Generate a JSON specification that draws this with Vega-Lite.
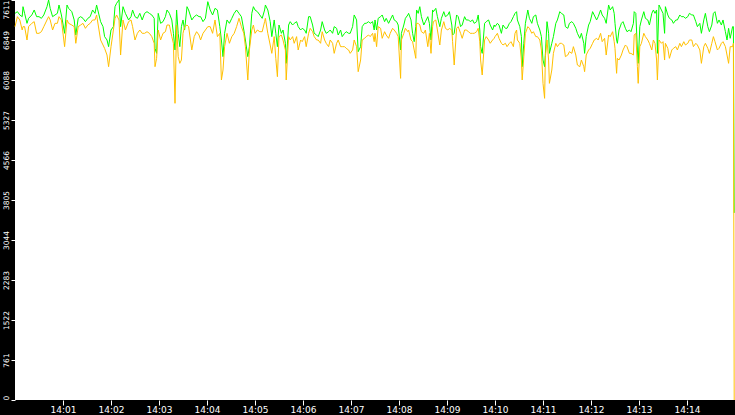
{
  "$schema": "https://vega.github.io/schema/vega-lite/v6.json",
  "width": 720,
  "height": 400,
  "autosize": {"type": "none"},
  "padding": {"left": 15, "top": 0, "right": 0, "bottom": 15},
  "background": "#000000",
  "config": {
    "view": {"fill": "#ffffff", "stroke": null},
    "axis": {"grid": false, "domain": false, "title": null, "labelColor": "#ffffff", "tickColor": "#ffffff", "labelFont": "DejaVu Sans"}
  },
  "data": {
    "values": [
      {"t":0,"g":7357,"o":7104},{"t":3,"g":7389,"o":7294},{"t":6,"g":7326,"o":7231},{"t":9,"g":7294,"o":7040},
      {"t":10,"g":7484,"o":7104},{"t":12,"g":7357,"o":7104},{"t":15,"g":7167,"o":6850},{"t":17,"g":7262,"o":7104},
      {"t":21,"g":7326,"o":7167},{"t":24,"g":7421,"o":7199},{"t":27,"g":7294,"o":6977},{"t":30,"g":7294,"o":6977},
      {"t":33,"g":7262,"o":7008},{"t":36,"g":7326,"o":7104},{"t":40,"g":7484,"o":7231},{"t":42,"g":7611,"o":7294},
      {"t":44,"g":7452,"o":7231},{"t":47,"g":7294,"o":7040},{"t":50,"g":7326,"o":7167},{"t":53,"g":7357,"o":7167},
      {"t":55,"g":7516,"o":7294},{"t":58,"g":7326,"o":7231},{"t":62,"g":6977,"o":6723},{"t":65,"g":7516,"o":7231},
      {"t":67,"g":7452,"o":7167},{"t":71,"g":7389,"o":7135},{"t":74,"g":7231,"o":7104},{"t":76,"g":6945,"o":6787},
      {"t":79,"g":7262,"o":7104},{"t":82,"g":7294,"o":7135},{"t":85,"g":7262,"o":7167},{"t":88,"g":7199,"o":7072},
      {"t":91,"g":7262,"o":7135},{"t":94,"g":7294,"o":7167},{"t":97,"g":7421,"o":7231},{"t":100,"g":7357,"o":7231},
      {"t":102,"g":7516,"o":7326},{"t":105,"g":7326,"o":7040},{"t":107,"g":7199,"o":6850},{"t":110,"g":7104,"o":6755},
      {"t":112,"g":6914,"o":6691},{"t":115,"g":6850,"o":6564},{"t":117,"g":6723,"o":6342},{"t":120,"g":7040,"o":6723},
      {"t":123,"g":7104,"o":7040},{"t":125,"g":7484,"o":7262},{"t":127,"g":7548,"o":7326},{"t":130,"g":7611,"o":7231},
      {"t":132,"g":7104,"o":6564},{"t":135,"g":7484,"o":7231},{"t":138,"g":7357,"o":7040},{"t":142,"g":7231,"o":7199},
      {"t":145,"g":7294,"o":7231},{"t":147,"g":7421,"o":7104},
      {"t":150,"g":7294,"o":6850},{"t":153,"g":7262,"o":6977},{"t":156,"g":7357,"o":7040},{"t":159,"g":7231,"o":6977},
      {"t":162,"g":7357,"o":6977},{"t":165,"g":7389,"o":7008},{"t":168,"g":7357,"o":6977},{"t":171,"g":7326,"o":6914},
      {"t":174,"g":7262,"o":6787},{"t":175,"g":6691,"o":6342},{"t":177,"g":6596,"o":6501},{"t":179,"g":7357,"o":7040},
      {"t":182,"g":7167,"o":6850},{"t":185,"g":7199,"o":6977},{"t":188,"g":7294,"o":7008},{"t":190,"g":7421,"o":7135},
      {"t":193,"g":7357,"o":7135},{"t":196,"g":7231,"o":6914},{"t":198,"g":6977,"o":6787},{"t":200,"g":6660,"o":5645},
      {"t":202,"g":7421,"o":7135},{"t":204,"g":6977,"o":6533},{"t":206,"g":6723,"o":6406},{"t":208,"g":7104,"o":6469},
      {"t":210,"g":7231,"o":6977},{"t":212,"g":7040,"o":7104},{"t":215,"g":7484,"o":7135},{"t":217,"g":7421,"o":7104},
      {"t":221,"g":7231,"o":6660},{"t":224,"g":7294,"o":6914},{"t":227,"g":7326,"o":7008},{"t":230,"g":7294,"o":6945},
      {"t":232,"g":7294,"o":6850},{"t":235,"g":7199,"o":6977},{"t":238,"g":7262,"o":7040},{"t":241,"g":7579,"o":7104},
      {"t":244,"g":7421,"o":7104},{"t":247,"g":7326,"o":6977},{"t":250,"g":7452,"o":7231},{"t":253,"g":7421,"o":6914},
      {"t":256,"g":7104,"o":6977},{"t":258,"g":6850,"o":6089},{"t":260,"g":6533,"o":6279},{"t":262,"g":6977,"o":6723},
      {"t":265,"g":7231,"o":6977},{"t":268,"g":7167,"o":6787},{"t":271,"g":7262,"o":6914},{"t":274,"g":7357,"o":6977},
      {"t":277,"g":7421,"o":7104},{"t":280,"g":7357,"o":7262},{"t":283,"g":7294,"o":7104},{"t":286,"g":7040,"o":6977},
      {"t":288,"g":6850,"o":6723},{"t":291,"g":6533,"o":6089},{"t":293,"g":6723,"o":6660},{"t":296,"g":7357,"o":7040},
      {"t":298,"g":7484,"o":7135},
      {"t":300,"g":7421,"o":6977},{"t":303,"g":7389,"o":7040},{"t":306,"g":7326,"o":7008},{"t":309,"g":7262,"o":7008},
      {"t":312,"g":7421,"o":7199},{"t":313,"g":7516,"o":7262},{"t":316,"g":7421,"o":6977},{"t":319,"g":7199,"o":6755},
      {"t":321,"g":6914,"o":6596},{"t":324,"g":7231,"o":6914},{"t":326,"g":6977,"o":6501},{"t":328,"g":6723,"o":6152},
      {"t":330,"g":7135,"o":6914},{"t":333,"g":6977,"o":6945},{"t":335,"g":7040,"o":6850},{"t":338,"g":6787,"o":6660},
      {"t":339,"g":6406,"o":6089},{"t":342,"g":7135,"o":6914},{"t":344,"g":7199,"o":6850},{"t":347,"g":7135,"o":6914},
      {"t":349,"g":7167,"o":6787},{"t":352,"g":7199,"o":6914},{"t":354,"g":7104,"o":6660},{"t":357,"g":7040,"o":6850},
      {"t":359,"g":7072,"o":6818},{"t":362,"g":7040,"o":6914},{"t":364,"g":6977,"o":6723},{"t":367,"g":7294,"o":6977},
      {"t":369,"g":7294,"o":7072},{"t":372,"g":7135,"o":7008},{"t":374,"g":6977,"o":6914},{"t":377,"g":6945,"o":6850},
      {"t":379,"g":6914,"o":6850},{"t":382,"g":7040,"o":6787},{"t":384,"g":7199,"o":7008},{"t":387,"g":7040,"o":6850},
      {"t":389,"g":6977,"o":6787},{"t":392,"g":7008,"o":6723},{"t":394,"g":7040,"o":6850},{"t":397,"g":6977,"o":6787},
      {"t":399,"g":7104,"o":6596},{"t":402,"g":7072,"o":6787},{"t":404,"g":6945,"o":6850},{"t":407,"g":7040,"o":6723},
      {"t":409,"g":6914,"o":6723},{"t":412,"g":6977,"o":6723},{"t":414,"g":7008,"o":6691},{"t":417,"g":6977,"o":6660},
      {"t":419,"g":6977,"o":6596},{"t":422,"g":7104,"o":6660},{"t":424,"g":7326,"o":6850},{"t":427,"g":7231,"o":6723},
      {"t":429,"g":6628,"o":6247},{"t":432,"g":6723,"o":6469},{"t":434,"g":7104,"o":6850},{"t":437,"g":7167,"o":6882},
      {"t":439,"g":7167,"o":6914},{"t":442,"g":7199,"o":6945},{"t":444,"g":7167,"o":6914},{"t":447,"g":7199,"o":6977},
      {"t":449,"g":7040,"o":6818},
      {"t":450,"g":7231,"o":6977},{"t":452,"g":7040,"o":6723},{"t":454,"g":7262,"o":7104},{"t":457,"g":7294,"o":7072},
      {"t":459,"g":7326,"o":6882},{"t":462,"g":7199,"o":7008},{"t":464,"g":7262,"o":6945},{"t":467,"g":7167,"o":6882},
      {"t":469,"g":7231,"o":6977},{"t":472,"g":7326,"o":7072},{"t":474,"g":7231,"o":7040},{"t":477,"g":7199,"o":6977},
      {"t":479,"g":7135,"o":6914},{"t":482,"g":6660,"o":6120},{"t":483,"g":6977,"o":6850},{"t":486,"g":7135,"o":6977},
      {"t":488,"g":7262,"o":7072},{"t":491,"g":7326,"o":7008},{"t":492,"g":7357,"o":7040},{"t":495,"g":7231,"o":6850},
      {"t":497,"g":6977,"o":6818},{"t":499,"g":6818,"o":6660},{"t":501,"g":7104,"o":6501},{"t":502,"g":7421,"o":7167},
      {"t":504,"g":7357,"o":7167},{"t":506,"g":7484,"o":7135},{"t":508,"g":7294,"o":7008},{"t":511,"g":7135,"o":6977},
      {"t":513,"g":7199,"o":7040},{"t":516,"g":7294,"o":6723},{"t":518,"g":7167,"o":6977},{"t":520,"g":6850,"o":6596},
      {"t":522,"g":7421,"o":7104},{"t":523,"g":7389,"o":7199},{"t":526,"g":7452,"o":7231},{"t":528,"g":7294,"o":7040},
      {"t":531,"g":7104,"o":6755},{"t":533,"g":7262,"o":7040},{"t":536,"g":7389,"o":7199},{"t":538,"g":7294,"o":7072},
      {"t":541,"g":7326,"o":7040},{"t":543,"g":7389,"o":7072},{"t":546,"g":7135,"o":7040},{"t":547,"g":6945,"o":6818},
      {"t":549,"g":6977,"o":6374},{"t":552,"g":7326,"o":7072},{"t":554,"g":7294,"o":7104},{"t":557,"g":7104,"o":6977},
      {"t":559,"g":7135,"o":6882},{"t":562,"g":7294,"o":7040},{"t":564,"g":7231,"o":7040},{"t":567,"g":7231,"o":7008},
      {"t":569,"g":7199,"o":6977},{"t":572,"g":7231,"o":6977},{"t":574,"g":7167,"o":6977},{"t":577,"g":7199,"o":7008},
      {"t":579,"g":7326,"o":7072},{"t":581,"g":7040,"o":6818},{"t":582,"g":6723,"o":6469},{"t":584,"g":6596,"o":6184},
      {"t":587,"g":7167,"o":6850},{"t":589,"g":7199,"o":6914},{"t":592,"g":7231,"o":6850},{"t":594,"g":7135,"o":6787},
      {"t":597,"g":7040,"o":6850},{"t":599,"g":7135,"o":6882},
      {"t":600,"g":7104,"o":6914},{"t":603,"g":7167,"o":6977},{"t":605,"g":7135,"o":6882},{"t":608,"g":6977,"o":6787},
      {"t":610,"g":7135,"o":6755},{"t":613,"g":7072,"o":6787},{"t":615,"g":7072,"o":6723},{"t":618,"g":7167,"o":6787},
      {"t":620,"g":7199,"o":6818},{"t":623,"g":7294,"o":6723},{"t":625,"g":7357,"o":6977},{"t":627,"g":7389,"o":7040},
      {"t":628,"g":7231,"o":6850},{"t":631,"g":7104,"o":6787},{"t":633,"g":6914,"o":6469},{"t":634,"g":6342,"o":6089},
      {"t":636,"g":6787,"o":6533},{"t":638,"g":7167,"o":6977},{"t":641,"g":7421,"o":7104},{"t":643,"g":7262,"o":7072},
      {"t":646,"g":7167,"o":6977},{"t":648,"g":7294,"o":7008},{"t":651,"g":7326,"o":6914},{"t":653,"g":7167,"o":6914},
      {"t":656,"g":7040,"o":6850},{"t":658,"g":6914,"o":6660},{"t":660,"g":6469,"o":6025},{"t":662,"g":6342,"o":5740},
      {"t":663,"g":6596,"o":6533},{"t":665,"g":7199,"o":6850},{"t":667,"g":6977,"o":6469},{"t":668,"g":6596,"o":6025},
      {"t":671,"g":6787,"o":6279},{"t":673,"g":6914,"o":6596},{"t":676,"g":7167,"o":6787},{"t":678,"g":7231,"o":6723},
      {"t":681,"g":7389,"o":6787},{"t":683,"g":7357,"o":6787},{"t":686,"g":7326,"o":6755},{"t":688,"g":7104,"o":6533},
      {"t":691,"g":7072,"o":6564},{"t":693,"g":7167,"o":6628},{"t":696,"g":7199,"o":6596},{"t":698,"g":7167,"o":6723},
      {"t":701,"g":7072,"o":6564},{"t":703,"g":6977,"o":6374},{"t":706,"g":6882,"o":6342},{"t":708,"g":6977,"o":6469},
      {"t":711,"g":6787,"o":6342},{"t":712,"g":6596,"o":6247},{"t":714,"g":6914,"o":6564},{"t":717,"g":7135,"o":6660},
      {"t":719,"g":7199,"o":6691},{"t":722,"g":7389,"o":6787},{"t":724,"g":7326,"o":6850},{"t":727,"g":7231,"o":6882},
      {"t":729,"g":7294,"o":6850},{"t":732,"g":7421,"o":6977},{"t":734,"g":7326,"o":6818},{"t":737,"g":7262,"o":6882},
      {"t":739,"g":7167,"o":6564},{"t":742,"g":7516,"o":6945},{"t":744,"g":7421,"o":6914},{"t":747,"g":7484,"o":7008},
      {"t":749,"g":7357,"o":6818},
      {"t":750,"g":7167,"o":6691},{"t":752,"g":6850,"o":6216},{"t":753,"g":6787,"o":6501},{"t":755,"g":7040,"o":6469},
      {"t":758,"g":7167,"o":6564},{"t":760,"g":7199,"o":6660},{"t":763,"g":7072,"o":6755},{"t":765,"g":7008,"o":6723},
      {"t":768,"g":7040,"o":6596},{"t":770,"g":7008,"o":6596},{"t":773,"g":7167,"o":6564},{"t":774,"g":7389,"o":6945},
      {"t":776,"g":7357,"o":6977},{"t":778,"g":6660,"o":6342},{"t":779,"g":6406,"o":6025},{"t":781,"g":7104,"o":6723},
      {"t":783,"g":7231,"o":6787},{"t":786,"g":7389,"o":6977},{"t":788,"g":7262,"o":6914},{"t":791,"g":7231,"o":6850},
      {"t":793,"g":7135,"o":6787},{"t":796,"g":7357,"o":6660},{"t":798,"g":7421,"o":6850},{"t":800,"g":7357,"o":6787},
      {"t":802,"g":7421,"o":6469},{"t":803,"g":6596,"o":6089},{"t":805,"g":7516,"o":6850},{"t":808,"g":7421,"o":6787},
      {"t":810,"g":7357,"o":6818},{"t":812,"g":6977,"o":6469},{"t":813,"g":7484,"o":6787},{"t":816,"g":7326,"o":6691},
      {"t":818,"g":7262,"o":6501},{"t":821,"g":7231,"o":6660},{"t":823,"g":7167,"o":6691},{"t":826,"g":7231,"o":6723},
      {"t":828,"g":7231,"o":6660},{"t":831,"g":7326,"o":6787},{"t":833,"g":7294,"o":6723},{"t":836,"g":7294,"o":6818},
      {"t":838,"g":7262,"o":6755},{"t":841,"g":7294,"o":6787},{"t":843,"g":7357,"o":6850},{"t":846,"g":7326,"o":6850},
      {"t":848,"g":7326,"o":6723},{"t":851,"g":7199,"o":6787},{"t":853,"g":7104,"o":6755},{"t":856,"g":7167,"o":6660},
      {"t":858,"g":6977,"o":6406},{"t":861,"g":7231,"o":6723},{"t":863,"g":7357,"o":6787},{"t":866,"g":7104,"o":6691},
      {"t":868,"g":7008,"o":6596},{"t":871,"g":7135,"o":6787},{"t":873,"g":7357,"o":6914},{"t":875,"g":7389,"o":6818},
      {"t":878,"g":7167,"o":6660},{"t":880,"g":7231,"o":6691},{"t":883,"g":7135,"o":6787},{"t":885,"g":7231,"o":6818},
      {"t":888,"g":7008,"o":6723},{"t":890,"g":6850,"o":6564},{"t":892,"g":7072,"o":6406},{"t":894,"g":6882,"o":6723},
      {"t":897,"g":7104,"o":6723},{"t":898,"g":7104,"o":6787},{"t":899,"g":3560,"o":0}
    ]
  },
  "encoding": {
    "x": {
      "field": "t",
      "type": "quantitative",
      "scale": {"domain": [0, 900], "nice": false, "zero": false},
      "axis": {
        "values": [60, 120, 180, 240, 300, 360, 420, 480, 540, 600, 660, 720, 780, 840],
        "labelExpr": "'14:' + (datum.value < 600 ? '0' : '') + (datum.value / 60)",
        "tickSize": 5,
        "labelPadding": 0,
        "labelFontSize": 9
      }
    }
  },
  "layer": [
    {
      "mark": {"type": "line", "color": "#00ff00", "strokeWidth": 1},
      "encoding": {
        "y": {
          "field": "g",
          "type": "quantitative",
          "scale": {"domain": [0, 7611], "nice": false},
          "axis": {
            "values": [0, 761, 1522, 2283, 3044, 3805, 4566, 5327, 6088, 6849, 7611],
            "format": "d",
            "labelAngle": 270,
            "labelAlign": {"condition": [{"test": "datum.value == 0", "value": "left"}, {"test": "datum.value == 7611", "value": "right"}], "value": "center"},
            "labelBaseline": "middle",
            "tickSize": 4,
            "labelPadding": 5,
            "labelFontSize": 7.5
          }
        }
      }
    },
    {
      "mark": {"type": "line", "color": "#ffc000", "strokeWidth": 1},
      "encoding": {
        "y": {
          "field": "o",
          "type": "quantitative",
          "axis": {
            "values": [0, 761, 1522, 2283, 3044, 3805, 4566, 5327, 6088, 6849, 7611],
            "format": "d",
            "labelAngle": 270,
            "labelAlign": {"condition": [{"test": "datum.value == 0", "value": "left"}, {"test": "datum.value == 7611", "value": "right"}], "value": "center"},
            "labelBaseline": "middle",
            "tickSize": 4,
            "labelPadding": 5,
            "labelFontSize": 7.5
          }
        }
      }
    }
  ]
}
